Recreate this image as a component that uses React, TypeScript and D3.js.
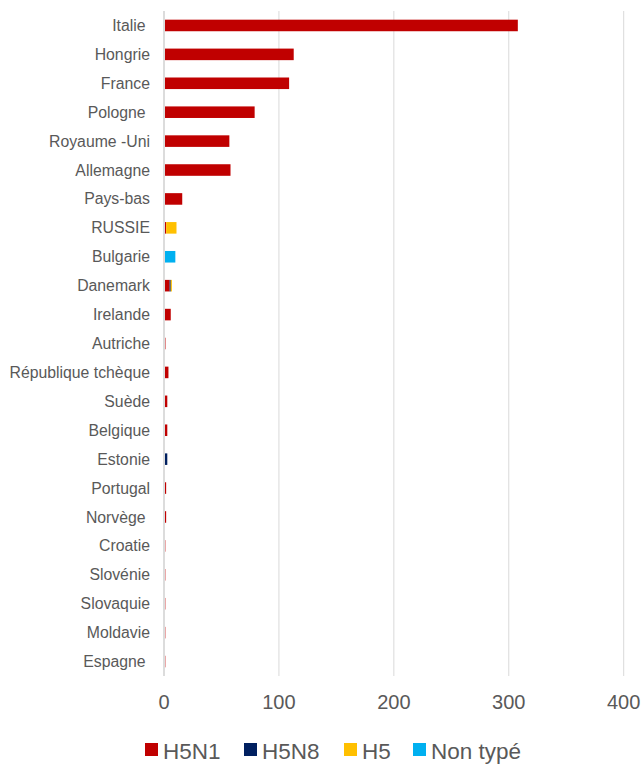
import React from "react";
import * as d3 from "d3";

const categories = ["Italie ", "Hongrie", "France", "Pologne ", "Royaume -Uni", "Allemagne", "Pays-bas", "RUSSIE", "Bulgarie", "Danemark", "Irelande", "Autriche", "République tchèque", "Suède", "Belgique", "Estonie", "Portugal", "Norvège ", "Croatie", "Slovénie", "Slovaquie", "Moldavie", "Espagne "];
const seriesNames = ["H5N1", "H5N8", "H5", "Non typé"];
const h5n1 = [307, 112, 108, 78, 56, 57, 15, 1, 0, 4, 5, 0.4, 3, 2, 2, 0, 1, 1, 0.3, 0.3, 0.3, 0.3, 0.3];
const h5n8 = [0, 0, 0, 0, 0, 0, 0, 0, 0, 1, 0, 0, 0, 0, 0, 2, 0, 0, 0, 0, 0, 0, 0];
const h5 = [0, 0, 0, 0, 0, 0, 0, 9, 0, 1, 0, 0, 0, 0, 0, 0, 0, 0, 0, 0, 0, 0, 0];
const nonType = [0, 0, 0, 0, 0, 0, 0, 0, 9, 0, 0, 0, 0, 0, 0, 0, 0, 0, 0, 0, 0, 0, 0];
const xTicks = [0, 100, 200, 300, 400];
const colors = ["#C00000", "#002060", "#FFC000", "#00B0F0"];

export default function App() {
  const W = 644, H = 764;
  const x = d3.scaleLinear().domain([0, 400]).range([164, 623.7]);
  const y = d3.scaleBand<string>().domain(categories).range([11, 676]).paddingInner(0.6).paddingOuter(0.3);
  const rows = categories.map((c, i) => ({ c, vals: [h5n1[i], h5n8[i], h5[i], nonType[i]] }));
  const stack = d3.stack<any>().keys(["0", "1", "2", "3"]).value((d: any, k: string) => d.vals[+k]);
  const series = stack(rows);
  const font = "'Liberation Sans', Arial, sans-serif";
  const legendX = [145, 244, 344, 413];
  return (
    <svg width={W} height={H} style={{ position: "absolute", left: 0, top: 0 }} fontFamily={font}>
      <rect width={W} height={H} fill="#fff" />
      {xTicks.map(t => (
        <g key={t}>
          <line x1={x(t)} x2={x(t)} y1={11} y2={676} stroke={t === 0 ? "#D0D0D0" : "#D9D9D9"} strokeWidth={t === 0 ? 1.5 : 1} />
          <text x={x(t)} y={709} textAnchor="middle" fontSize={20} fill="#595959">{t}</text>
        </g>
      ))}
      {series.map((s, si) => (
        <g key={si} fill={colors[si]}>
          {s.map((d: any, i: number) => {
            const w = x(d[1]) - x(d[0]);
            if (w <= 0) return null;
            return <rect key={i} x={x(d[0]) + 1} y={y(categories[i])!} width={w} height={y.bandwidth()} />;
          })}
        </g>
      ))}
      {categories.map(c => (
        <text key={c} x={150} y={y(c)! + y.bandwidth() / 2} dy="0.35em" textAnchor="end" fontSize={15.8} fill="#595959" style={{ whiteSpace: "pre" }}>{c}</text>
      ))}
      {seriesNames.map((n, i) => (
        <g key={n}>
          <rect x={legendX[i]} y={743} width={13} height={13} fill={colors[i]} />
          <text x={legendX[i] + 18} y={758.5} fontSize={22.5} fill="#595959">{n}</text>
        </g>
      ))}
    </svg>
  );
}
